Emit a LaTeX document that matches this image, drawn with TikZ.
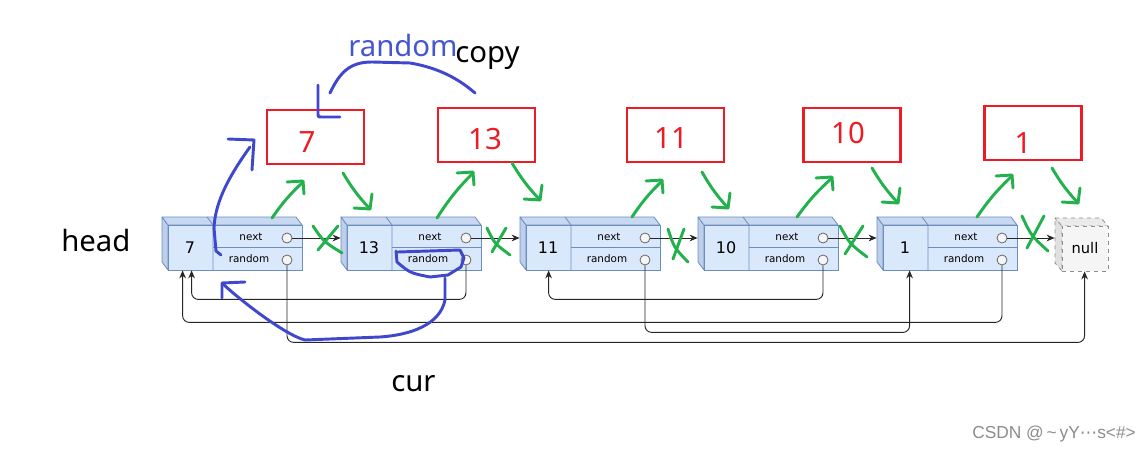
\documentclass[tikz,border=0pt]{standalone}
\usepackage{fontspec}
\setmainfont{Noto Sans}
\newfontfamily\fieldfont{DejaVu Sans}
\newfontfamily\wmfont{Liberation Sans}
\newfontfamily\dvfont{DejaVu Sans}
\usetikzlibrary{calc,arrows.meta}
\definecolor{nodefill}{HTML}{DAE8FC}
\definecolor{topfill}{HTML}{C8D8F0}
\definecolor{sidefill}{HTML}{BDCFEA}
\definecolor{nodedraw}{HTML}{6C8EBF}
\definecolor{pred}{HTML}{ED1C24}
\definecolor{pgreen}{HTML}{22B14C}
\definecolor{pblue}{HTML}{3F48CC}
\definecolor{tblue}{HTML}{4655D0}
\tikzset{
  front/.style={draw=nodedraw, fill=nodefill, line width=0.6pt, minimum width=100.5pt, minimum height=33.75pt, inner sep=0pt},
  face/.style={draw=nodedraw, line width=0.6pt, line join=round},
  port/.style={circle, draw=black!60, fill=black!4, line width=0.6pt, minimum size=7.5pt, inner sep=0pt},
  fieldtxt/.style={font=\fieldfont\fontsize{7.8}{9}\selectfont, inner sep=0pt},
  valtxt/.style={font=\fieldfont\fontsize{12}{14}\selectfont, inner sep=0pt},
  nxt/.style={draw=black!85, line width=0.7pt, -{Stealth[length=6pt,width=5pt]}},
  rnd/.style={draw=black!85, line width=0.7pt, rounded corners=5pt, -{Stealth[length=6pt,width=5pt]}},
  copybox/.style={draw=pred, line width=1.9pt, minimum width=72.75pt, minimum height=40.5pt, inner sep=0pt},
  copytxt/.style={anchor=base, text=pred, font=\fontsize{22}{26}\selectfont, inner sep=0pt},
  bigtxt/.style={anchor=base west, font=\fontsize{22}{26}\selectfont, inner sep=0pt},
  gpen/.style={draw=pgreen, line width=2.2pt, line cap=round, line join=round},
  bpen/.style={draw=pblue, line width=2.2pt, line cap=round, line join=round},
}
\newcommand\lnode[3]{%
  \filldraw[face, fill=sidefill] (#2-6,217) -- (#2,225) -- (#2,270) -- (#2-6,262) -- cycle;
  \filldraw[face, fill=topfill] (#2-6,217) -- (#2+128,217) -- (#2+134,225) -- (#2,225) -- cycle;
  \node[front] (#1) at (#2+67,247.5) {};
  \draw[face] (#2+39,217) -- (#2+45,225) -- (#2+45,270);
  \draw[face] (#2+45,247) -- (#2+134,247);
  \node[valtxt] (#1v) at (#2+22,248) {#3};
  \node[fieldtxt] (#1nt) at (#2+83,237) {next};
  \node[fieldtxt] (#1rt) at (#2+81,259) {random};
  \node[port] (#1n) at (#2+119,238) {};
  \node[port] (#1r) at (#2+119,260) {};
}
\newcommand\gup[4]{%
  \draw[gpen] (#1,#2) to[bend left=6] (#3,#4+1);
  \draw[gpen] (#3-16,#4+1) -- (#3,#4) -- (#3+1,#4+13);
}
\newcommand\gdown[4]{%
  \draw[gpen] (#1,#2) to[bend right=6] (#3,#4);
  \draw[gpen] (#3+2,#4-15) -- (#3,#4) -- (#3-16,#4-1);
}
\newcommand\gx[4]{%
  \draw[gpen] (#1,#2) .. controls ($(#1,#2)!0.5!(#3,#4)+(-4,2)$) .. (#3,#4);
  \draw[gpen] (#3-4,#2) -- (#1+5,#4-3);
}
\begin{document}
\begin{tikzpicture}[x=0.75pt, y=-0.75pt]
\useasboundingbox (0,0) rectangle (1147,453);
\fill[white] (0,0) rectangle (1147,453);

% list nodes
\lnode{n7}{168}{7}
\lnode{n13}{347}{13}
\lnode{n11}{526}{11}
\lnode{n10}{704}{10}
\lnode{n1}{883}{1}

% null node
\filldraw[face, draw=black!45, dashed, fill=black!12] (1055,218) -- (1062,226) -- (1062,271) -- (1055,263) -- cycle;
\filldraw[face, draw=black!45, dashed, fill=black!8] (1055,218) -- (1101,218) -- (1108,226) -- (1062,226) -- cycle;
\node[draw=black!45, dashed, fill=black!4, line width=0.6pt, minimum width=34.5pt, minimum height=33.75pt, inner sep=0pt, font=\fieldfont\fontsize{11}{12}\selectfont] (null) at (1085,248.5) {null};

% next pointers
\draw[nxt] (n7n.east) -- ($(n7n.east -| n13.west)+(-6,0)$);
\draw[nxt] (n13n.east) -- ($(n13n.east -| n11.west)+(-6,0)$);
\draw[nxt] (n11n.east) -- ($(n11n.east -| n10.west)+(-6,0)$);
\draw[nxt] (n10n.east) -- ($(n10n.east -| n1.west)+(-6,0)$);
\draw[nxt] (n1n.east) -- ($(n1n.east -| null.west)+(-7,0)$);

% random pointers
\draw[rnd] (n7r.south) -- ++(0,77) -| ($(null.south west)+(23,0)$);
\draw[rnd] (n1r.south) -- ++(0,57) -| ($(n7.south west)+(15,0)$);
\draw[rnd] (n11r.south) -- ++(0,67) -| ($(n1.south west)+(27,0)$);
\draw[rnd] (n13r.south) -- ++(0,34) -| ($(n7.south west)+(24,0)$);
\draw[rnd] (n10r.south) -- ++(0,34) -| ($(n11.south west)+(23,0)$);

% copy boxes
\node[copybox] (c7) at (315.5,137) {};
\node[copybox] (c13) at (486.5,135) {};
\node[copybox] (c11) at (675.5,135) {};
\node[copybox] (c10) at (852,135) {};
\node[copybox] (c1) at (1033,133) {};
\node[copytxt] (t7) at (307,152) {7};
\node[copytxt] (t13) at (485,150) {13};
\node[copytxt] (t11) at (671,149) {11};
\node[copytxt] (t10) at (848,143) {10};
\node[copytxt] (t1) at (1023,153) {1};

% labels
\node[bigtxt] (head) at (61,251) {head};
\node[bigtxt] (cur) at (391,391) {cur};
\node[bigtxt] (copy) at (455,63) {copy};
\node[bigtxt, text=tblue] (rndlbl) at (348,57) {random};
\node[anchor=west, text=black!45, inner sep=0pt, font=\wmfont\fontsize{13}{15}\selectfont] (wm) at (972,434) {CSDN @\,\textasciitilde\,yY{\dvfont ⋯}s<\#>};

% green annotations
\gup{272}{218}{303}{181}
\gup{437}{218}{473}{172}
\gup{632}{217}{662}{180}
\gup{797}{217}{832}{177}
\gup{977}{217}{1012}{175}
\gdown{343}{173}{370}{209}
\gdown{512}{163}{540}{200}
\gdown{702}{172}{728}{208}
\gdown{872}{168}{898}{203}
\gdown{1052}{168}{1078}{203}
\gx{313}{226}{342}{253}
\gx{487}{228}{510}{255}
\gx{668}{229}{688}{262}
\gx{840}{226}{867}{257}
\gx{1022}{216}{1048}{251}

% blue annotations
\draw[bpen] (221,255) -- (216,251) -- (214,228) .. controls (215,200) and (232,172) .. (250,147);
\draw[bpen] (228,139) -- (254,140) -- (252,170);
\draw[bpen] (398,252) -- (460,250) -- (464,258) -- (461,267) -- (448,275) -- (430,277) .. controls (410,273) .. (397,262) -- (396,251);
\draw[bpen] (445,278) -- (445,300) .. controls (440,325) and (410,335) .. (380,337) -- (305,340) .. controls (285,335) and (240,300) .. (223,284);
\draw[bpen] (222,298) -- (222,283) -- (245,282);
\draw[bpen] (318,85) -- (318,113) .. controls (318,117) .. (322,117) -- (340,117);
\draw[bpen] (330,93) .. controls (340,72) and (350,62) .. (372,62) -- (410,63) .. controls (440,68) and (460,80) .. (475,93);
\end{tikzpicture}
\end{document}
